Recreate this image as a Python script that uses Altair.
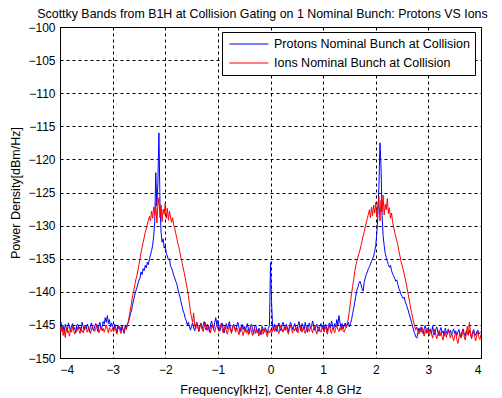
import altair as alt
import numpy as np
import pandas as pd

# Frequency grid (kHz): 401 bins from -4 to 4
freq_start = -4.0
freq_step = 0.02
n_bins = 401

protons = [
    # -4.00 .. -3.52
    -145.0, -144.6, -145.8, -145.2, -146.1, -144.9, -145.5, -145.9, -144.7, -145.3, -146.0, -145.1, -144.8, -145.7, -145.4, -146.2, -145.0, -144.9, -145.6, -145.3, -146.0, -144.6, -145.2, -145.8, -145.1,
    # -3.50 .. -3.02
    -145.6, -144.9, -145.3, -146.1, -145.0, -144.7, -145.5, -145.9, -145.2, -144.8, -145.4, -146.0, -145.1, -144.6, -145.7, -145.3, -144.5, -144.9, -143.9, -144.6, -143.6, -144.8, -144.2, -145.3, -144.7,
    # -3.00 .. -2.52
    -145.2, -145.8, -144.9, -145.5, -146.2, -145.0, -145.6, -145.3, -146.0, -145.1, -145.7, -146.3, -145.0, -145.6, -144.9, -144.6, -144.0, -143.3, -142.8, -141.9, -141.2, -140.5, -139.9, -139.4, -138.8,
    # -2.50 .. -2.02
    -138.3, -137.9, -137.0, -137.4, -136.5, -136.8, -136.0, -136.4, -135.5, -135.9, -135.0, -134.4, -133.8, -133.0, -131.6, -129.4, -122.0, -127.0, -123.5, -116.0, -126.5, -131.0, -132.5, -132.0, -133.4,
    # -2.00 .. -1.52
    -133.0, -134.2, -134.6, -135.2, -135.0, -136.1, -136.4, -136.9, -137.5, -137.9, -138.4, -138.8, -139.6, -140.2, -140.8, -141.5, -142.2, -142.9, -143.3, -144.0, -144.4, -145.0, -144.6, -145.3, -145.8,
    # -1.50 .. -1.02
    -145.1, -144.7, -145.5, -145.9, -145.0, -144.6, -145.3, -146.0, -145.2, -144.8, -145.6, -145.1, -144.5, -145.4, -145.8, -144.9, -145.3, -146.1, -145.0, -144.4, -145.2, -145.7, -144.6, -143.9, -145.0,
    # -1.00 .. -0.52
    -144.3, -145.4, -145.9, -145.1, -144.7, -145.5, -146.2, -145.3, -144.8, -145.6, -145.0, -144.5, -145.8, -146.0, -145.2, -144.9, -145.4, -145.7, -145.1, -144.6, -145.3, -146.1, -145.5, -144.9, -145.7,
    # -0.50 .. -0.02
    -145.2, -146.0, -145.4, -144.8, -145.6, -146.3, -145.1, -144.9, -145.7, -146.4, -145.3, -145.0, -145.8, -146.2, -145.5, -145.9, -146.5, -145.2, -145.6, -146.0, -145.4, -145.8, -146.3, -145.5, -145.1,
    # 0.00 .. 0.48
    -135.6, -141.5, -145.2, -145.8, -144.9, -145.4, -146.0, -145.1, -144.7, -145.5, -145.9, -145.0, -144.6, -145.3, -145.8, -144.9, -145.4, -146.1, -145.2, -144.6, -145.0, -145.7, -145.3, -144.8, -145.5,
    # 0.50 .. 0.98
    -146.0, -145.1, -144.5, -145.3, -145.9, -144.8, -145.2, -145.7, -144.6, -145.4, -146.1, -145.0, -144.7, -145.6, -145.2, -144.4, -145.1, -145.8, -145.3, -144.9, -145.6, -146.0, -145.2, -144.8, -145.4,
    # 1.00 .. 1.48
    -145.0, -145.6, -144.9, -145.3, -146.0, -145.2, -144.7, -145.5, -144.4, -145.1, -145.7, -144.8, -145.3, -144.2, -145.0, -143.6, -144.6, -145.4, -144.8, -145.6, -145.1, -144.7, -145.4, -145.0, -144.6,
    # 1.50 .. 1.98
    -145.3, -144.8, -144.2, -143.3, -142.5, -141.6, -140.7, -139.8, -139.3, -138.7, -138.4, -138.9, -139.5, -139.9, -138.6, -137.9, -137.4, -137.0, -136.5, -136.2, -135.8, -135.4, -135.0, -134.6, -133.9,
    # 2.00 .. 2.48
    -133.0, -131.2, -128.5, -124.0, -117.5, -121.0, -128.5, -131.5, -133.0, -134.2, -134.8, -135.4, -135.9, -136.3, -136.0, -136.8, -137.3, -137.6, -138.0, -138.4, -138.2, -138.9, -139.5, -139.9, -140.4,
    # 2.50 .. 2.98
    -140.7, -141.0, -140.8, -141.5, -141.9, -142.4, -142.9, -143.5, -144.0, -144.6, -145.2, -145.8, -146.3, -146.8, -147.0, -146.2, -145.5, -146.0, -145.3, -145.9, -146.3, -145.6, -145.1, -145.8, -146.2,
    # 3.00 .. 3.48
    -145.4, -146.0, -145.6, -146.4, -145.2, -145.9, -146.5, -145.7, -145.3, -146.1, -146.6, -145.8, -145.4, -146.2, -145.9, -146.7, -145.5, -146.0, -146.4, -145.7, -146.2, -145.8, -146.5, -146.0, -145.6,
    # 3.50 .. 3.98
    -146.3, -145.9, -146.6, -146.1, -145.7, -146.4, -146.8, -146.0, -145.6, -146.3, -146.7, -145.9, -146.2, -146.5, -145.8, -146.4, -146.9, -146.1, -145.7, -146.3, -146.6, -146.0, -145.8, -146.4, -146.2,
    # 4.00
    -146.0,
]

ions = [
    # -4.00 .. -3.52
    -145.3, -146.0, -145.5, -146.6, -145.8, -146.9, -145.4, -146.2, -145.9, -146.7, -145.6, -146.1, -145.2, -145.9, -146.4, -145.7, -146.0, -145.3, -145.8, -146.3, -145.5, -145.9, -146.2, -145.6, -145.1,
    # -3.50 .. -3.02
    -145.7, -146.1, -145.4, -145.9, -146.3, -145.6, -145.2, -145.8, -146.0, -145.5, -144.9, -145.6, -146.2, -145.7, -145.3, -145.9, -145.5, -146.1, -145.6, -145.0, -145.7, -146.2, -145.4, -145.8, -146.0,
    # -3.00 .. -2.52
    -145.5, -146.0, -145.3, -145.8, -146.4, -145.6, -145.2, -145.9, -146.3, -145.5, -145.8, -146.1, -145.4, -145.7, -145.0, -144.4, -143.5, -142.6, -141.6, -140.6, -139.9, -139.0, -138.2, -137.6, -136.8,
    # -2.50 .. -2.02
    -135.9, -135.0, -134.0, -133.3, -132.5, -131.8, -131.0, -130.5, -129.8, -129.2, -128.6, -129.3, -127.8, -128.9, -127.2, -128.4, -126.5, -129.6, -127.0, -125.8, -128.8, -126.9, -129.4, -127.5, -128.3,
    # -2.00 .. -1.52
    -126.6, -128.9, -127.4, -129.2, -127.8, -128.7, -129.5, -128.8, -129.9, -130.4, -131.2, -131.9, -132.7, -133.3, -134.1, -134.9, -135.6, -136.4, -137.1, -137.9, -138.8, -139.7, -140.6, -141.8, -143.0,
    # -1.50 .. -1.02
    -143.9, -144.6, -143.2, -145.0, -145.6, -144.8, -145.3, -145.9, -145.1, -144.7, -145.5, -146.0, -145.2, -144.6, -145.4, -145.8, -145.0, -145.6, -146.2, -145.3, -144.9, -145.7, -146.1, -145.4, -145.0,
    # -1.00 .. -0.52
    -145.6, -146.0, -145.3, -144.8, -145.5, -146.2, -145.7, -145.1, -145.9, -146.4, -145.6, -145.2, -145.8, -146.3, -145.5, -145.0, -145.7, -146.1, -145.4, -145.9, -146.5, -145.8, -145.3, -146.0, -146.6,
    # -0.50 .. -0.02
    -145.9, -145.4, -146.2, -145.7, -146.5, -145.8, -145.3, -146.1, -146.6, -145.9, -145.5, -146.3, -145.7, -146.0, -146.7, -145.8, -146.2, -145.6, -146.4, -146.0, -145.5, -146.3, -146.8, -145.9, -146.2,
    # 0.00 .. 0.48
    -145.7, -146.3, -145.8, -145.2, -146.0, -145.6, -145.1, -145.9, -146.3, -145.5, -145.0, -145.7, -146.1, -145.4, -145.8, -145.2, -145.9, -146.4, -145.6, -145.1, -145.7, -146.2, -145.5, -145.9, -145.3,
    # 0.50 .. 0.98
    -145.8, -146.2, -145.5, -145.0, -145.7, -146.1, -145.4, -145.9, -146.3, -145.6, -145.2, -145.8, -146.0, -145.3, -145.7, -146.2, -145.5, -145.1, -145.9, -146.4, -145.6, -145.3, -145.8, -146.1, -145.4,
    # 1.00 .. 1.48
    -145.7, -146.1, -145.3, -145.8, -146.4, -145.6, -145.0, -145.9, -146.3, -145.4, -145.8, -146.2, -145.5, -145.1, -145.7, -146.0, -145.4, -145.8, -145.2, -145.9, -146.1, -145.6, -145.3, -144.7, -144.0,
    # 1.50 .. 1.98
    -142.8, -141.6, -140.3, -139.2, -138.2, -137.0, -136.1, -135.4, -134.8, -134.2, -133.7, -133.0, -132.3, -131.6, -131.0, -130.2, -129.6, -128.9, -128.3, -127.6, -128.8, -127.2, -128.5, -126.9, -128.1,
    # 2.00 .. 2.48
    -126.5, -128.7, -127.0, -125.6, -129.3, -126.2, -127.9, -125.4, -128.4, -126.8, -127.6, -125.9, -128.2, -127.3, -128.9, -128.1, -129.4, -130.2, -131.0, -131.7, -132.3, -133.0, -133.8, -134.6, -135.4,
    # 2.50 .. 2.98
    -136.0, -136.6, -137.3, -138.0, -138.8, -139.6, -140.5, -141.4, -142.3, -143.1, -143.9, -144.6, -145.2, -145.8, -145.3, -145.9, -146.4, -145.6, -146.1, -145.4, -146.0, -146.7, -145.8, -146.3, -145.5,
    # 3.00 .. 3.48
    -146.0, -146.6, -145.8, -146.3, -147.0, -146.2, -145.7, -146.5, -147.1, -146.4, -145.9, -146.7, -146.1, -146.8, -147.3, -146.5, -146.0, -146.9, -146.3, -145.6, -146.4, -147.0, -146.2, -146.8, -147.4,
    # 3.50 .. 3.98
    -146.6, -146.1, -147.2, -147.8, -146.9, -146.3, -147.0, -146.5, -145.8, -146.7, -147.3, -146.4, -145.2, -146.6, -144.6, -146.2, -147.1, -146.5, -145.9, -146.8, -147.4, -146.6, -146.0, -146.9, -147.2,
    # 4.00
    -146.4,
]

series_names = ["Protons Nominal Bunch at Collision", "Ions Nominal Bunch at Collision"]
series_colors = ["#0000ff", "#ff0000"]
x_ticks = [-4, -3, -2, -1, 0, 1, 2, 3, 4]
y_ticks = [-150, -145, -140, -135, -130, -125, -120, -115, -110, -105, -100]

freq = np.round(freq_start + freq_step * np.arange(n_bins), 2)
df = pd.concat(
    [
        pd.DataFrame({"f": freq, "p": protons[:n_bins], "s": series_names[0]}),
        pd.DataFrame({"f": freq, "p": ions[:n_bins], "s": series_names[1]}),
    ],
    ignore_index=True,
)

FONT = "Liberation Sans"

color = alt.Color(
    "s:N",
    sort=series_names,
    scale=alt.Scale(domain=series_names, range=series_colors),
    legend=alt.Legend(
        title=None,
        orient="none",
        legendX=162,
        legendY=5,
        symbolType="M-0.7,0H5.3",
        symbolSize=169,
        symbolStrokeWidth=1,
        symbolFillColor="transparent",
        labelFont=FONT,
        labelFontSize=12.5,
        labelColor="black",
        labelOffset=33,
        labelLimit=400,
        padding=5,
        rowPadding=5,
        strokeColor="black",
        fillColor="white",
    ),
)

x = alt.X(
    "f:Q",
    scale=alt.Scale(domain=[-4, 4], nice=False, zero=False),
    axis=alt.Axis(
        values=x_ticks,
        title="Frequency[kHz], Center 4.8 GHz",
        format="d",
        labelPadding=6,
        titlePadding=8,
    ),
)
y = alt.Y(
    "p:Q",
    scale=alt.Scale(domain=[-150, -100], nice=False, zero=False),
    axis=alt.Axis(
        values=y_ticks,
        title="Power Density[dBm/Hz]",
        format="d",
        labelPadding=5,
        titlePadding=5,
    ),
)

chart = (
    alt.Chart(df)
    .mark_line(strokeWidth=1, clip=True)
    .encode(x=x, y=y, color=color, detail="s:N")
    .properties(
        width=421,
        height=331,
        autosize=alt.AutoSizeParams(type="none"),
        padding={"left": 52, "top": 19, "right": 13, "bottom": 38},
        title=alt.TitleParams(
            "Scottky Bands from B1H at Collision Gating on 1 Nominal Bunch: Protons VS Ions",
            font=FONT,
            fontSize=12.4,
            fontWeight="normal",
            color="black",
            anchor="middle",
            frame="group",
            offset=1,
            dx=-8,
        ),
    )
    .configure_view(stroke="black", strokeWidth=1)
    .configure_axis(
        grid=True,
        gridColor="black",
        gridDash=[3, 3],
        gridOpacity=1,
        gridWidth=1,
        ticks=False,
        domain=False,
        labelFont=FONT,
        labelFontSize=12,
        labelColor="black",
        titleFont=FONT,
        titleFontSize=12.5,
        titleFontWeight="normal",
        titleColor="black",
    )
)

chart.save("out.html", embed_options={"renderer": "svg", "actions": False})
